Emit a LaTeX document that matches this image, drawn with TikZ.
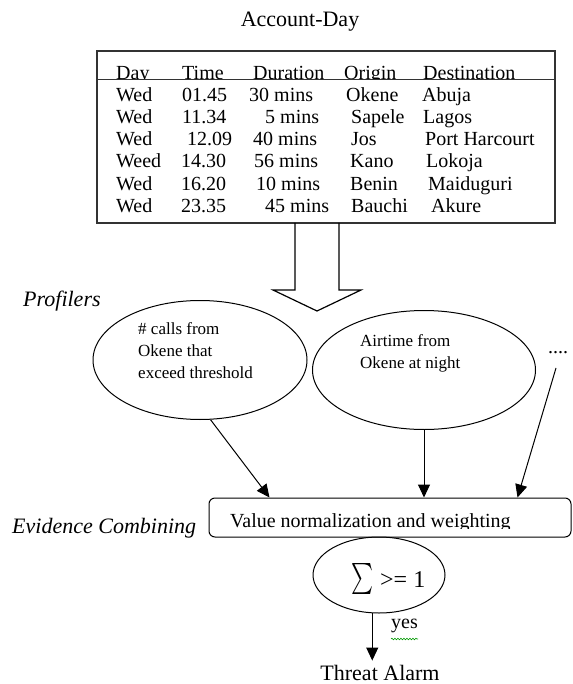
\documentclass[tikz,border=0pt]{standalone}
\usepackage{fontspec}
\setmainfont{Liberation Serif}
\usetikzlibrary{shapes.geometric,arrows.meta,calc,decorations.pathmorphing}

\tikzset{
  cell/.style={anchor=base west, inner sep=0pt, font=\fontsize{20}{24}\selectfont},
  sidetext/.style={anchor=base west, inner sep=0pt, font=\itshape\fontsize{22}{26}\selectfont},
  profiler/.style={draw, ellipse, line width=1pt, minimum height=119pt, inner sep=0pt},
  ptext/.style={anchor=north west, align=left, inner sep=0pt, font=\fontsize{17}{22}\selectfont},
  flow/.style={-{Triangle[length=13pt,width=12pt]}, line width=1pt},
}

\begin{document}
\begin{tikzpicture}[x=1pt,y=-1pt]
\useasboundingbox (0,0) rectangle (572,684);

% we draw the account-day table
\node (title) [anchor=base, inner sep=0pt, font=\fontsize{22}{26}\selectfont] at (300,27) {Account-Day};
\draw[line width=1.2pt, draw=black!80] (97,51) rectangle (555,223);
\draw[line width=1.2pt, draw=black!80] (97,79.5) -- (555,79.5);

% header row, cut off by the line
\begin{scope}
\clip (97,51) rectangle (555,79);
\foreach \x/\t [count=\c] in {116/Day,182/Time,253/Duration,344/Origin,423/Destination}
  \node (h-\c) [cell] at (\x,80) {\t};
\end{scope}

% we add the calls
\foreach \x/\t [count=\c] in {116/Wed,182/01.45,249/30 mins,346/Okene,422/Abuja}
  \node (r1-\c) [cell] at (\x,102) {\t};
\foreach \x/\t [count=\c] in {116/Wed,182/11.34,265/5 mins,351/Sapele,423/Lagos}
  \node (r2-\c) [cell] at (\x,124) {\t};
\foreach \x/\t [count=\c] in {116/Wed,187/12.09,253/40 mins,351/Jos,425/Port Harcourt}
  \node (r3-\c) [cell] at (\x,146) {\t};
\foreach \x/\t [count=\c] in {116/Weed,181/14.30,254/56 mins,350/Kano,426/Lokoja}
  \node (r4-\c) [cell] at (\x,168) {\t};
\foreach \x/\t [count=\c] in {116/Wed,181/16.20,256/10 mins,350/Benin,428/Maiduguri}
  \node (r5-\c) [cell] at (\x,191) {\t};
\foreach \x/\t [count=\c] in {116/Wed,181/23.35,265/45 mins,351/Bauchi,431/Akure}
  \node (r6-\c) [cell] at (\x,213) {\t};

% the big arrow down
\draw[line width=1.2pt] (295,223) -- (295,290) -- (273,290) -- (317,311)
  -- (361,290) -- (339,290) -- (339,223);

% profilers
\node (prof) [sidetext] at (23,306) {Profilers};
\node (calls) [profiler, minimum width=214pt] at (200,360) {};
\node (callst) [ptext] at (138,322) {\# calls from\\Okene that\\exceed threshold};
\node (night) [profiler, minimum width=223pt] at (424,370) {};
\node (nightt) [ptext] at (360,334) {Airtime from\\Okene at night};
\node (dots) [cell] at (548,353) {....};
\coordinate (dotsfoot) at (556,368);

% evidence combining
\node (evid) [sidetext] at (12,533) {Evidence Combining};
\node (norm) [draw, rounded corners=6pt, line width=1pt, minimum width=362pt,
  minimum height=39pt, inner sep=0pt] at (390,517.5) {};
\begin{scope}
\clip (209,498) rectangle (571,528.5);
\node (normt) [cell] at (230,527.5) {Value normalization and weighting};
\end{scope}

% arrows into the box
\draw[flow] (calls.-80) -- ($(norm.north west)+(61,0)$);
\draw[flow] (night.south) -- (night.south |- norm.north);
\draw[flow] (dotsfoot) -- ($(norm.north west)+(309,0)$);

% sum test
\node (sum) [draw, ellipse, line width=1pt, minimum width=132pt, minimum height=76pt,
  inner sep=0pt] at (379,575) {};
\node (sumt) [anchor=base west, inner sep=0pt] at (351,587)
  {\resizebox*{22pt}{31pt}{$\sum$}\hspace{7pt}{\fontsize{24}{28}\selectfont >= 1}};

% threat alarm
\node (alarm) [anchor=base, inner sep=0pt, font=\fontsize{22}{26}\selectfont] at (380,680) {Threat Alarm};
\draw[flow, shorten >=4pt] (sum.-100) -- (sum.-100 |- alarm.north);
\node (yes) [cell] at (391,628) {yes};
\draw[green!60!black, line width=0.6pt, decorate, decoration={snake, amplitude=0.8pt, segment length=3pt}]
  ($(yes.base west)+(0,11)$) -- ($(yes.base east)+(0,11)$);

\end{tikzpicture}
\end{document}
